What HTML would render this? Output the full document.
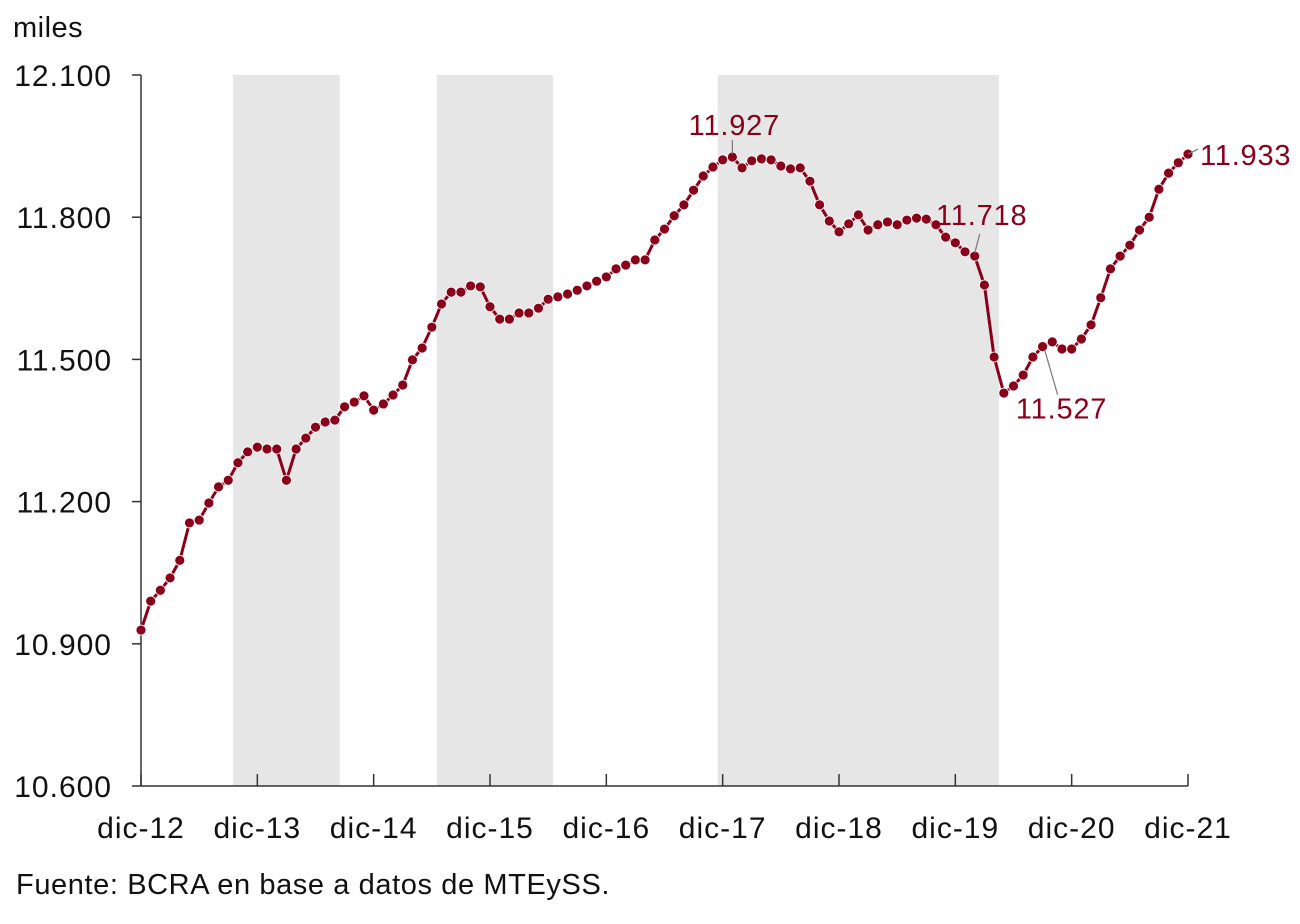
<!DOCTYPE html>
<html><head><meta charset="utf-8"><style>
body{margin:0;background:#fff;}
svg text{font-family:"Liberation Sans",Arial,sans-serif;}
</style></head><body>
<svg id="chart" width="1300" height="919" xmlns="http://www.w3.org/2000/svg">
<g id="bands"></g>
<g id="axes"></g>
<g id="series"></g>
<g id="labels"></g>
<text x="13" y="37" font-size="29" letter-spacing="0.5" fill="#111">miles</text>
<text x="16" y="894" font-size="29" letter-spacing="0.6" fill="#111">Fuente: BCRA en base a datos de MTEySS.</text>
</svg>
<script>
const values = [10929,10990,11013,11039,11076,11155,11161,11197,11231,11245,
11282,11305,11315,11311,11311,11245,11311,11334,11357,11368,
11372,11400,11410,11423,11393,11406,11425,11446,11499,11524,
11568,11617,11642,11642,11655,11653,11611,11585,11585,11598,
11598,11608,11627,11632,11638,11646,11655,11665,11674,11691,
11699,11710,11710,11752,11775,11803,11826,11857,11887,11906,
11921,11927,11904,11919,11923,11921,11908,11902,11904,11876,
11826,11792,11769,11786,11805,11773,11784,11790,11784,11794,
11798,11796,11784,11758,11746,11727,11718,11657,11505,11429,
11444,11467,11505,11527,11537,11522,11522,11543,11573,11630,
11691,11718,11741,11773,11800,11859,11893,11915,11933];
const xTickLabels = ["dic-12","dic-13","dic-14","dic-15","dic-16","dic-17","dic-18","dic-19","dic-20","dic-21"];
const yTicks = [10600,10900,11200,11500,11800,12100];
const bandStarts = [9.5,30.5,59.5];
const bandEnds = [20.5,42.5,88.5];
const annotIdx = [61,86,93,108];

const NS="http://www.w3.org/2000/svg";
const X0=141,X1=1188,Y0=786,Y1=75,N=values.length-1;
const xs=i=>X0+(X1-X0)*i/N;
const ys=v=>Y0-(v-10600)/(12100-10600)*(Y0-Y1);
const fmt=v=>{const s=String(v);return s.slice(0,s.length-3)+"."+s.slice(-3);};
function mk(tag,attrs,parent){const e=document.createElementNS(NS,tag);for(const k in attrs)e.setAttribute(k,attrs[k]);parent.appendChild(e);return e;}
const bands=document.getElementById('bands'),axes=document.getElementById('axes'),series=document.getElementById('series'),labels=document.getElementById('labels');
bandStarts.forEach((s,i)=>{const r=mk('rect',{x:xs(s),y:Y1,width:xs(bandEnds[i])-xs(s),height:Y0-Y1,fill:'#e6e6e6'},bands);

});
const ax=mk('line',{x1:X0,y1:Y1,x2:X0,y2:Y0,stroke:'#333','stroke-width':1.5},axes);


const bx=mk('line',{x1:X0,y1:Y0,x2:X1,y2:Y0,stroke:'#333','stroke-width':1.5},axes);


yTicks.forEach(v=>{mk('line',{x1:X0-9,y1:ys(v),x2:X0,y2:ys(v),stroke:'#333','stroke-width':1.5},axes);
const t=mk('text',{x:112,y:ys(v)+11,'font-size':30,'letter-spacing':1,'text-anchor':'end',fill:'#111'},axes);t.textContent=fmt(v);

});
xTickLabels.forEach((l,i)=>{const x=xs(i*12);mk('line',{x1:x,y1:Y0,x2:x,y2:Y0-12,stroke:'#333','stroke-width':1.5},axes);
const t=mk('text',{x:x,y:838,'font-size':30,'letter-spacing':1,'text-anchor':'middle',fill:'#111'},axes);t.textContent=l;

});
const pts=values.map((v,i)=>xs(i).toFixed(1)+','+ys(v).toFixed(1)).join(' ');
const pl=mk('polyline',{points:pts,fill:'none',stroke:'#8b0019','stroke-width':3},series);


values.forEach((v,i)=>{const c=mk('circle',{cx:xs(i),cy:ys(v),r:5,fill:'#8b0019',stroke:'#fff','stroke-width':0.8},series);

});
// [textdx, textdy, l1dx, l1dy, l2dx, l2dy, anchor]
const offs=[[2,-22,0,-3,0,-17,'middle'],[7,-31,0,-3,5,-22,'middle'],[19,72,2,3,15,48,'middle'],[12,11,0,0,10,-5,'start']];
annotIdx.forEach((idx,k)=>{const x=xs(idx),y=ys(values[idx]);const o=offs[k];
mk('line',{x1:x+o[2],y1:y+o[3],x2:x+o[4],y2:y+o[5],stroke:'#777','stroke-width':1.2},labels);
const t=mk('text',{x:x+o[0],y:y+o[1],'font-size':29,'letter-spacing':0.8,'text-anchor':o[6],fill:'#8b0019'},labels);
t.textContent=fmt(values[idx]);

});
</script>
</body></html>
